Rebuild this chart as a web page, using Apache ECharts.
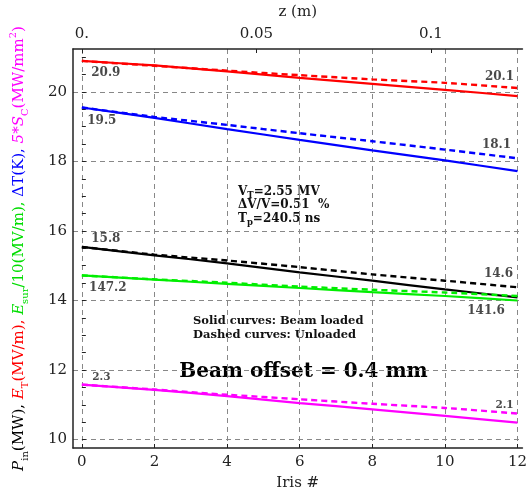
<!DOCTYPE html>
<html><head><meta charset="utf-8">
<script src="https://cdn.jsdelivr.net/npm/echarts@6/dist/echarts.min.js"></script>
<style>html,body{margin:0;padding:0;background:#fff}#c{width:530px;height:496px}</style>
</head><body><div id="c"></div>
<script>
// ---- data ----
const iris = [0, 2, 4, 6, 8, 10, 12];
const redLoaded       = [20.89, 20.76, 20.59, 20.40, 20.23, 20.06, 19.88];
const redUnloaded     = [20.89, 20.75, 20.61, 20.48, 20.36, 20.26, 20.11];
const blueLoaded      = [19.55, 19.25, 18.93, 18.62, 18.32, 18.03, 17.72];
const blueUnloaded    = [19.55, 19.28, 19.05, 18.81, 18.58, 18.34, 18.09];
const blackLoaded     = [15.54, 15.30, 15.07, 14.81, 14.57, 14.32, 14.09];
const blackUnloaded   = [15.54, 15.32, 15.15, 14.96, 14.75, 14.57, 14.38];
const greenLoaded     = [14.72, 14.60, 14.48, 14.36, 14.24, 14.13, 14.00];
const greenUnloaded   = [14.72, 14.61, 14.51, 14.40, 14.31, 14.23, 14.13];
const magentaLoaded   = [11.58, 11.43, 11.25, 11.05, 10.87, 10.68, 10.49];
const magentaUnloaded = [11.58, 11.44, 11.29, 11.16, 11.03, 10.91, 10.75];

const xTicks = [0, 2, 4, 6, 8, 10, 12];
const yLabels = [10, 12, 14, 16, 18, 20];
const yMinorTicks = [10, 10.5, 11, 11.5, 12, 12.5, 13, 13.5, 14, 14.5, 15, 15.5, 16, 16.5, 17, 17.5, 18, 18.5, 19, 19.5, 20, 20.5, 21];
const zTicks = [0, 0.05, 0.1];
const cellLength = 0.0104; // m per iris
const startLabels = ['20.9', '19.5', '15.8', '147.2', '2.3'];
const endLabels   = ['20.1', '18.1', '14.6', '141.6', '2.1'];

// ---- layout ----
const X_MIN = -0.244, X_MAX = 12.135;
const Y_MIN = 9.758, Y_MAX = 21.233;
const FF = 'DejaVu Serif';

function lineSeries(vals, color, dashed) {
  return {
    type: 'line', xAxisIndex: 0, yAxisIndex: 0,
    data: iris.map((x, i) => [x, vals[i]]),
    showSymbol: false, symbol: 'none', smooth: 0.2, silent: true,
    lineStyle: { color: color, width: dashed ? 2.4 : 2.2, type: dashed ? [6, 4] : 'solid' },
    z: dashed ? 4 : 3
  };
}
const colors = ['#ff0000', '#0000ff', '#000000', '#00ee00', '#ff00ff'];
const loaded = [redLoaded, blueLoaded, blackLoaded, greenLoaded, magentaLoaded];
const unloaded = [redUnloaded, blueUnloaded, blackUnloaded, greenUnloaded, magentaUnloaded];

const series = [];
loaded.forEach((v, k) => series.push(lineSeries(v, colors[k], false)));
unloaded.forEach((v, k) => series.push(lineSeries(v, colors[k], true)));

const startOffsets = [[24, 12], [20, 13], [24, -8], [26, 12], [19.5, -7]];
const endOffsets = [[-18, -11], [-21, -13.5], [-19, -13.5], [-31.5, 10], [-13, -8]];
const endSource = [unloaded[0], unloaded[1], unloaded[2], loaded[3], unloaded[4]];
const labelData = [];
startLabels.forEach((t, k) => labelData.push({
  value: [iris[0], unloaded[k][0]],
  label: { formatter: t, offset: startOffsets[k], fontSize: k === 4 ? 10.5 : 12 }
}));
endLabels.forEach((t, k) => labelData.push({
  value: [iris[iris.length - 1], endSource[k][iris.length - 1]],
  label: { formatter: t, offset: endOffsets[k], fontSize: k === 4 ? 10.5 : 12 }
}));
series.push({
  type: 'scatter', xAxisIndex: 0, yAxisIndex: 0, symbolSize: 0, silent: true, z: 6,
  data: labelData,
  label: { show: true, position: 'inside', color: '#1a1a1a', fontFamily: FF, fontWeight: 'bold' }
});

const grid = { left: 68, right: 6, top: 46, bottom: 47 };
const frameLine = { show: true, onZero: false, lineStyle: { color: '#222', width: 1.5 } };
const gridLine = { show: true, lineStyle: { color: '#888', type: [5, 4], width: 1 } };
const tickFont = { fontFamily: FF, fontSize: 15, color: '#222' };

const sub = (c, s) => ({ color: c, fontFamily: FF, fontSize: s || 10, verticalAlign: 'bottom', lineHeight: 22 });
const base = (c, it) => ({ color: c, fontFamily: FF, fontSize: 15, fontStyle: it ? 'italic' : 'normal', lineHeight: 22 });

const option = {
  animation: false,
  backgroundColor: '#fff',
  grid: grid,
  xAxis: [
    {
      type: 'value', position: 'bottom', min: X_MIN, max: X_MAX,
      axisLine: frameLine,
      axisTick: { show: true, inside: true, length: 4, customValues: xTicks, lineStyle: { color: '#222' } },
      axisLabel: Object.assign({ customValues: xTicks, margin: 7 }, tickFont),
      splitLine: gridLine,
      name: 'Iris #', nameLocation: 'middle', nameGap: 28,
      nameTextStyle: { fontFamily: FF, fontSize: 15, color: '#222' }
    },
    {
      type: 'value', position: 'top', min: X_MIN * cellLength, max: X_MAX * cellLength,
      axisLine: frameLine,
      axisTick: { show: true, inside: true, length: 4, customValues: zTicks, lineStyle: { color: '#222' } },
      axisLabel: Object.assign({ customValues: zTicks, margin: 7, formatter: v => (v === 0 ? '0.' : String(v)) }, tickFont),
      splitLine: { show: false },
      name: 'z (m)', nameLocation: 'middle', nameGap: 29,
      nameTextStyle: { fontFamily: FF, fontSize: 15, color: '#222' }
    }
  ],
  yAxis: [
    {
      type: 'value', position: 'left', min: Y_MIN, max: Y_MAX,
      axisLine: frameLine,
      axisTick: { show: false, customValues: yLabels },
      axisLabel: Object.assign({ customValues: yLabels, margin: 6 }, tickFont),
      splitLine: gridLine,
      name: '{p|P}{ps|in}{k|(MW), }{e|E}{es|T}{r|(MV/m), }{g1|E}{gs|sur}{g|/10(MV/m), }{b|ΔT(K), }{m1|5*S}{ms|C}{m|(MW/mm}{mu|2}{m|)}',
      nameLocation: 'middle', nameRotate: 90, nameGap: 43,
      nameTextStyle: {
        rich: {
          p: base('#000', true), ps: sub('#000'), k: base('#000'),
          e: base('#ff0000', true), es: sub('#ff0000'), r: base('#ff0000'),
          g1: base('#00dd00', true), gs: sub('#00dd00'), g: base('#00dd00'),
          b: base('#0000ff'),
          m1: base('#ff00ff', true), ms: sub('#ff00ff'), m: base('#ff00ff'),
          mu: { color: '#ff00ff', fontFamily: FF, fontSize: 10, verticalAlign: 'top', lineHeight: 22 }
        }
      }
    },
    {
      type: 'value', position: 'left', min: Y_MIN, max: Y_MAX,
      axisLine: { show: false },
      axisTick: { show: true, inside: true, length: 4, customValues: yMinorTicks, lineStyle: { color: '#222' } },
      axisLabel: { show: false },
      splitLine: { show: false }
    }
  ],
  graphic: [
    { type: 'text', x: 238, y: 191.5, silent: true, style: { text: '{a|V}{s|T}{a|=2.55 MV}', verticalAlign: 'middle', textVerticalAlign: 'middle',
      rich: { a: { fontFamily: FF, fontWeight: 'bold', fontSize: 12, fill: '#111', lineHeight: 17, verticalAlign: 'middle' }, s: { fontFamily: FF, fontWeight: 'bold', fontSize: 8.5, fill: '#111', lineHeight: 17, verticalAlign: 'bottom' } } } },
    { type: 'text', x: 238, y: 204.5, silent: true, style: { text: 'ΔV/V=0.51  %', font: 'bold 12px "DejaVu Serif"', fill: '#111', verticalAlign: 'middle', textVerticalAlign: 'middle' } },
    { type: 'text', x: 238, y: 218.5, silent: true, style: { text: '{a|T}{s|p}{a|=240.5 ns}', verticalAlign: 'middle', textVerticalAlign: 'middle',
      rich: { a: { fontFamily: FF, fontWeight: 'bold', fontSize: 12, fill: '#111', lineHeight: 17, verticalAlign: 'middle' }, s: { fontFamily: FF, fontWeight: 'bold', fontSize: 8.5, fill: '#111', lineHeight: 17, verticalAlign: 'bottom' } } } },
    { type: 'text', x: 193, y: 321, silent: true, style: { text: 'Solid curves: Beam loaded', font: 'bold 11.5px "DejaVu Serif"', fill: '#111', verticalAlign: 'middle', textVerticalAlign: 'middle' } },
    { type: 'text', x: 193, y: 335.5, silent: true, style: { text: 'Dashed curves: Unloaded', font: 'bold 11.5px "DejaVu Serif"', fill: '#111', verticalAlign: 'middle', textVerticalAlign: 'middle' } },
    { type: 'text', x: 303.5, y: 372, silent: true, style: { text: 'Beam offset = 0.4 mm', font: 'bold 20px "DejaVu Serif"', fill: '#000', align: 'center', textAlign: 'center', verticalAlign: 'middle', textVerticalAlign: 'middle' } }
  ],
  series: series
};

const chart = echarts.init(document.getElementById('c'), null, { renderer: 'canvas' });
chart.setOption(option);
</script>
</body></html>
